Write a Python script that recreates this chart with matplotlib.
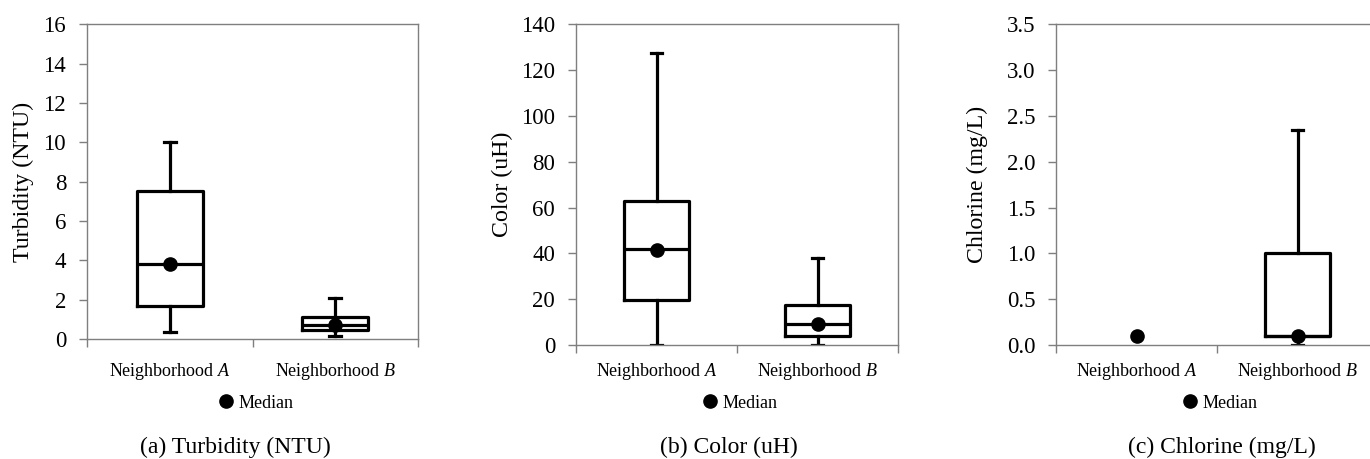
import numpy as np
import matplotlib
matplotlib.use("Agg")
import matplotlib.pyplot as plt
from matplotlib.lines import Line2D

plt.rcParams['font.family'] = ['Liberation Serif', 'DejaVu Serif']
plt.rcParams['mathtext.fontset'] = 'custom'
plt.rcParams['mathtext.it'] = 'Liberation Serif:italic'
plt.rcParams['mathtext.rm'] = 'Liberation Serif'

categories = ["Neighborhood $\\it{A}$", "Neighborhood $\\it{B}$"]

# Turbidity (NTU)
turb_min = [0.37, 0.17]
turb_q1 = [1.7, 0.46]
turb_med = [3.83, 0.7]
turb_q3 = [7.5, 1.1]
turb_max = [10.03, 2.08]
turb_dot = [3.8, 0.7]

# Color (uH)
color_min = [0.0, 0.0]
color_q1 = [19.6, 4.1]
color_med = [41.7, 9.2]
color_q3 = [62.7, 17.6]
color_max = [127.3, 37.8]
color_dot = [41.5, 9.0]

# Chlorine (mg/L) -- Neighborhood A has no box (all values at median)
chl_min = [np.nan, 0.0]
chl_q1 = [np.nan, 0.1]
chl_med = [np.nan, 0.1]
chl_q3 = [np.nan, 1.0]
chl_max = [np.nan, 2.35]
chl_dot = [0.1, 0.1]

panels = [
    dict(mn=turb_min, q1=turb_q1, med=turb_med, q3=turb_q3, mx=turb_max, dot=turb_dot,
         ylim=(0, 16), yticks=np.arange(0, 17, 2), fmt="{:.0f}", ylabel="Turbidity (NTU)",
         caption="(a) Turbidity (NTU)", px=(87, 24.3, 331, 339), cap_x=235, ylab_x=23),
    dict(mn=color_min, q1=color_q1, med=color_med, q3=color_q3, mx=color_max, dot=color_dot,
         ylim=(0, 140), yticks=np.arange(0, 141, 20), fmt="{:.0f}", ylabel="Color (uH)",
         caption="(b) Color (uH)", px=(576, 24.3, 322, 345), cap_x=729, ylab_x=502),
    dict(mn=chl_min, q1=chl_q1, med=chl_med, q3=chl_q3, mx=chl_max, dot=chl_dot,
         ylim=(0, 3.5), yticks=np.arange(0, 3.51, 0.5), fmt="{:.1f}", ylabel="Chlorine (mg/L)",
         caption="(c) Chlorine (mg/L)", px=(1056, 24.3, 322, 345), cap_x=1222, ylab_x=977),
]

W, H = 1370, 459
fig = plt.figure(figsize=(W / 100, H / 100), dpi=100)
grey = '#7f7f7f'
positions = [0.5, 1.5]
label_y = 370  # pixel row of x category labels

for p in panels:
    left, top, width, bottom = p['px']
    ax = fig.add_axes([left / W, (H - bottom) / H, width / W, (bottom - top) / H])
    stats = []
    pos = []
    for i in range(2):
        if np.isnan(p['q1'][i]):
            continue
        stats.append(dict(whislo=p['mn'][i], q1=p['q1'][i], med=p['med'][i],
                          q3=p['q3'][i], whishi=p['mx'][i], fliers=[]))
        pos.append(positions[i])
    lw = 2.3
    ax.bxp(stats, positions=pos, widths=0.4, showfliers=False, manage_ticks=False,
           boxprops=dict(color='black', linewidth=lw),
           whiskerprops=dict(color='black', linewidth=lw),
           capprops=dict(color='black', linewidth=lw),
           medianprops=dict(color='black', linewidth=lw),
           capwidths=0.07)
    ax.plot(positions, p['dot'], 'o', color='black', markersize=9.5, zorder=5, clip_on=False)

    ax.set_xlim(0, 2)
    ax.set_ylim(*p['ylim'])
    ax.set_yticks(p['yticks'])
    ax.set_yticklabels([p['fmt'].format(v) for v in p['yticks']], fontsize=16.5)
    ax.set_xticks([0, 1, 2])
    ax.set_xticklabels([])
    ax.set_xticks(positions, minor=True)
    ax.set_xticklabels(categories, minor=True, fontsize=13)
    pad_pt = 16 - (bottom - 339) * 0.72
    ax.tick_params(axis='x', which='minor', length=0, pad=pad_pt)
    ax.tick_params(axis='x', which='major', length=6, color=grey, width=1, direction='out')
    ax.tick_params(axis='y', length=6, color=grey, width=1, direction='out', pad=9)
    for s in ax.spines.values():
        s.set_color(grey)
        s.set_linewidth(1)

    fig.text(p['ylab_x'] / W, 1 - (top + bottom) / 2 / H, p['ylabel'], rotation=90,
             ha='center', va='center', fontsize=17.2)

    cx = (left + width / 2) / W
    handle = Line2D([], [], marker='o', color='black', linestyle='none', markersize=9.5)
    fig.legend([handle], ['Median'], loc='center', bbox_to_anchor=(cx + 1.5 / W, 1 - 403 / H),
               bbox_transform=fig.transFigure, frameon=False, fontsize=13,
               handletextpad=0.1, handlelength=1.2)
    fig.text(p['cap_x'] / W, 1 - 447 / H, p['caption'], ha='center', va='center', fontsize=17)

fig.savefig("out.png", dpi=100)
